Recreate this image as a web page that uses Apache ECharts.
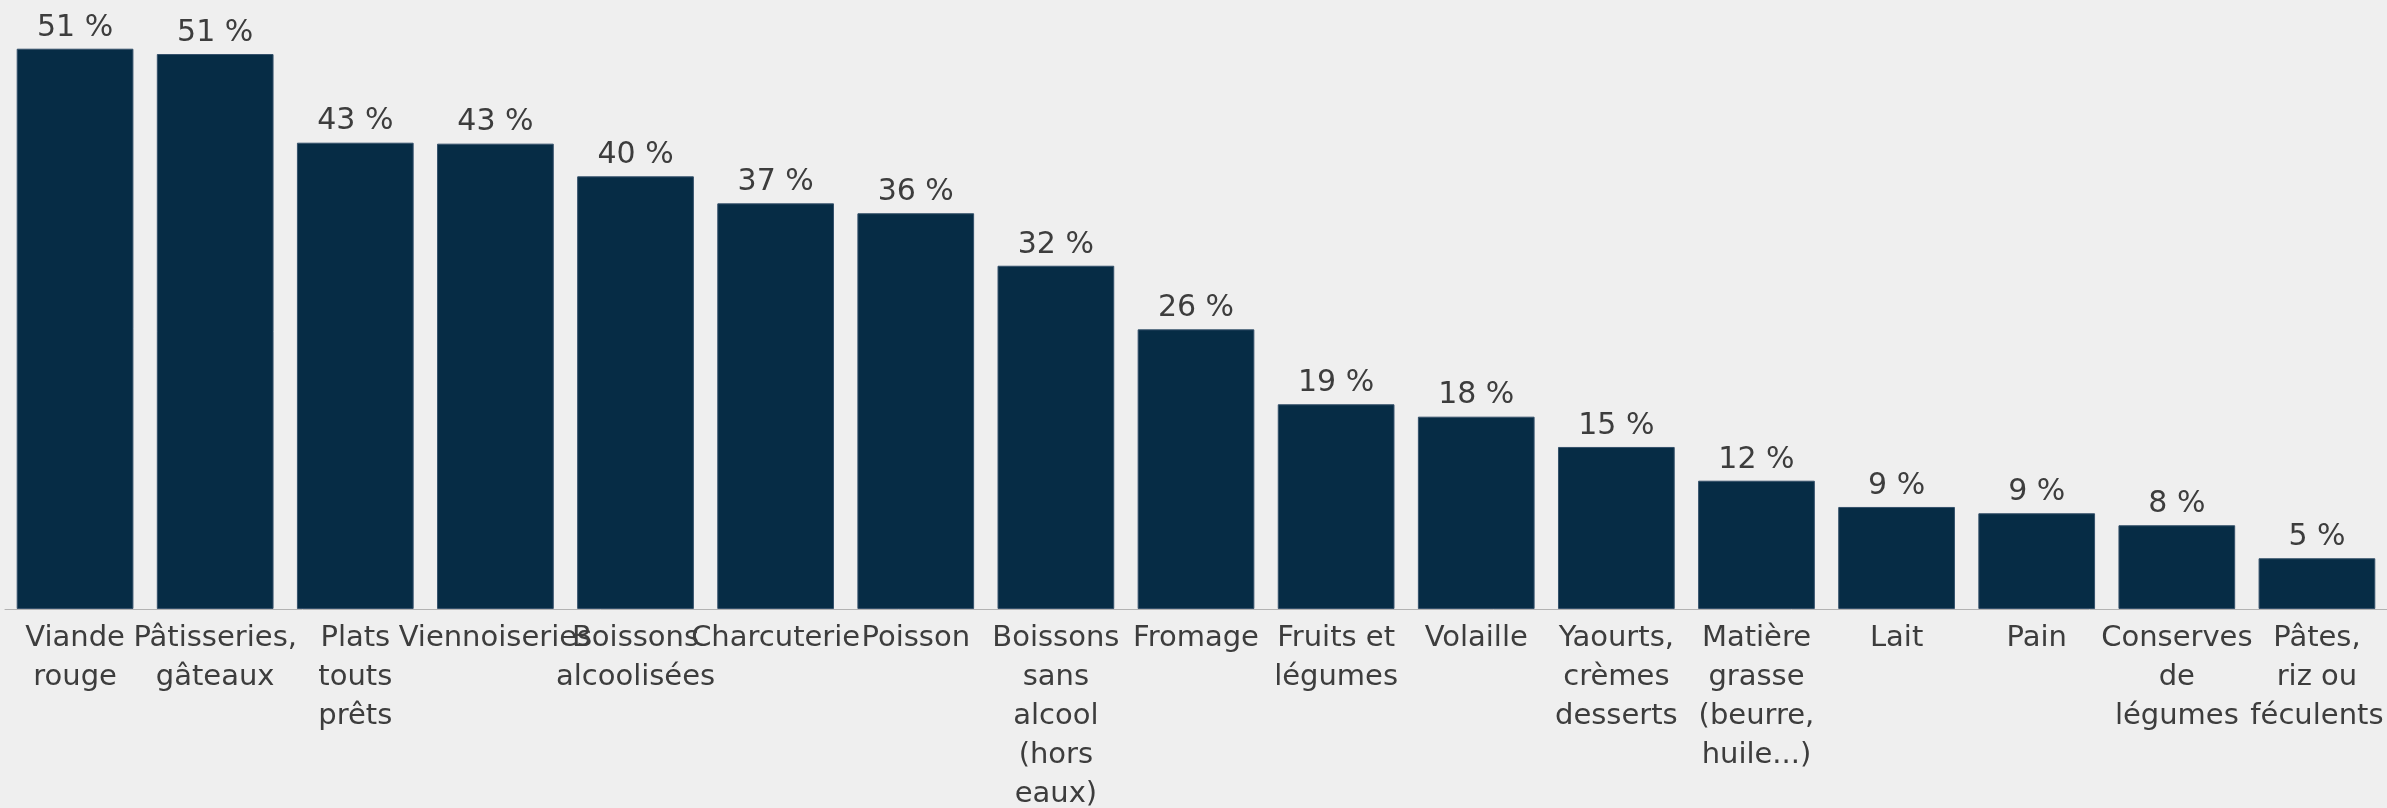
<!DOCTYPE html>
<html lang="fr">
<head>
<meta charset="utf-8">
<title>Produits alimentaires</title>
<script src="https://cdn.jsdelivr.net/npm/echarts@6/dist/echarts.min.js"></script>
<style>
  html, body { margin: 0; padding: 0; background: #efefef; overflow: hidden; }
  #chart { width: 2387px; height: 808px; }
</style>
</head>
<body>
<div id="chart"></div>
<script>
// Catégories (retours à la ligne tels qu'affichés sous l'axe)
const categories = [
  'Viande\nrouge',
  'Pâtisseries,\ngâteaux',
  'Plats\ntouts\nprêts',
  'Viennoiseries',
  'Boissons\nalcoolisées',
  'Charcuterie',
  'Poisson',
  'Boissons\nsans\nalcool\n(hors\neaux)',
  'Fromage',
  'Fruits et\nlégumes',
  'Volaille',
  'Yaourts,\ncrèmes\ndesserts',
  'Matière\ngrasse\n(beurre,\nhuile...)',
  'Lait',
  'Pain',
  'Conserves\nde\nlégumes',
  'Pâtes,\nriz ou\nféculents'
];

// Part des répondants, en %
const values = [
  51.45, 50.96, 42.82, 42.73, 39.73, 37.25, 36.34, 31.52, 25.68,
  18.80, 17.66, 14.88, 11.78, 9.37, 8.79, 7.69, 4.66
];

const textColor = '#3d3d3d';
const fontFamily = '"DejaVu Sans", Verdana, sans-serif';

const chart = echarts.init(document.getElementById('chart'), null, { renderer: 'canvas' });

chart.setOption({
  backgroundColor: '#efefef',
  animation: false,
  grid: {
    left: 5, right: 0, top: 10.05, bottom: 199,
    containLabel: false,
    outerBoundsMode: 'none'
  },
  xAxis: {
    type: 'category',
    data: categories,
    axisLine: { show: true, lineStyle: { color: '#b3b3b3', width: 1 } },
    axisTick: { show: false },
    axisLabel: {
      interval: 0,
      hideOverlap: false,
      margin: 10,
      color: textColor,
      fontFamily: fontFamily,
      fontSize: 29,
      lineHeight: 39,
      align: 'center'
    }
  },
  yAxis: {
    type: 'value',
    min: 0,
    max: 55,
    show: false,
    splitLine: { show: false }
  },
  series: [{
    type: 'bar',
    data: values,
    barCategoryGap: '16.7%',
    itemStyle: {
      color: '#062c45',
      borderColor: '#34506a',
      borderWidth: 1
    },
    label: {
      show: true,
      position: 'top',
      distance: 6,
      color: textColor,
      fontFamily: fontFamily,
      fontSize: 30,
      formatter: p => Math.round(p.value) + ' %'
    }
  }]
});
</script>
</body>
</html>
